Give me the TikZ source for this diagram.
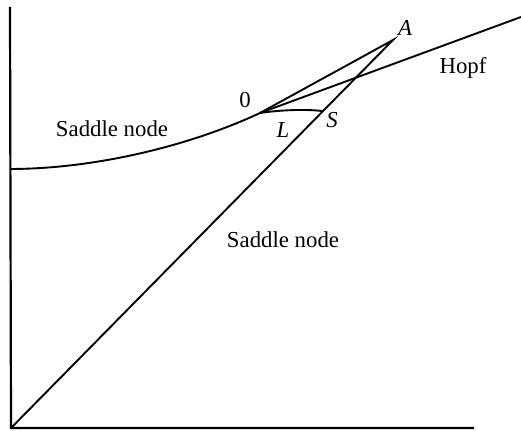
\documentclass[tikz,border=0pt]{standalone}
\usepackage{fontspec}
\setmainfont{Liberation Serif}
\usetikzlibrary{positioning}
\tikzset{
  % Axes
  axisline/.style={line width=1.1pt,color=black},
  % Bifurcation curves
  bifline/.style={line width=0.95pt,color=black},
  % Labels
  lbl/.style={font=\fontsize{11.4}{13}\selectfont,inner sep=0pt},
  ptlbl/.style={font=\fontsize{11.4}{13}\selectfont\itshape,inner sep=0pt},
}
\begin{document}
\begin{tikzpicture}[x=0.5pt,y=-0.5pt]

  \useasboundingbox (0,0) rectangle (521,431);

  % Points
  \coordinate (orig) at (11,428);
  \coordinate (ytop) at (10,7);
  \coordinate (xend) at (474,428);
  \coordinate (bt) at (260,113);
  \coordinate (ptA) at (393,40);
  \coordinate (ptS) at (322,111);
  \coordinate (hopfend) at (521,17);
  \coordinate (snstart) at (10,169);

  % Axes
  \draw[axisline] (ytop) -- (orig) -- (xend);

  % Curves
  \draw[bifline] (snstart) .. controls (90,169) and (185,148) .. (bt);
  \draw[bifline] (bt) -- (ptA) -- (orig);
  \draw[bifline] (bt) -- (hopfend);
  \draw[bifline] (bt) .. controls (280,110) and (305,109) .. (ptS);

  % Labels
  \node[lbl] (zero) at (245,100) {0};
  \node[ptlbl] (lA) at (405,28) {A};
  \node[ptlbl] (lL) at (283,130) {L};
  \node[ptlbl] (lS) at (332,120) {S};
  \node[lbl] (hopf) at (463,68) {Hopf};
  \node[lbl] (sn1) at (112,129) {Saddle node};
  \node[lbl] (sn2) at (283,240) {Saddle node};

\end{tikzpicture}
\end{document}
